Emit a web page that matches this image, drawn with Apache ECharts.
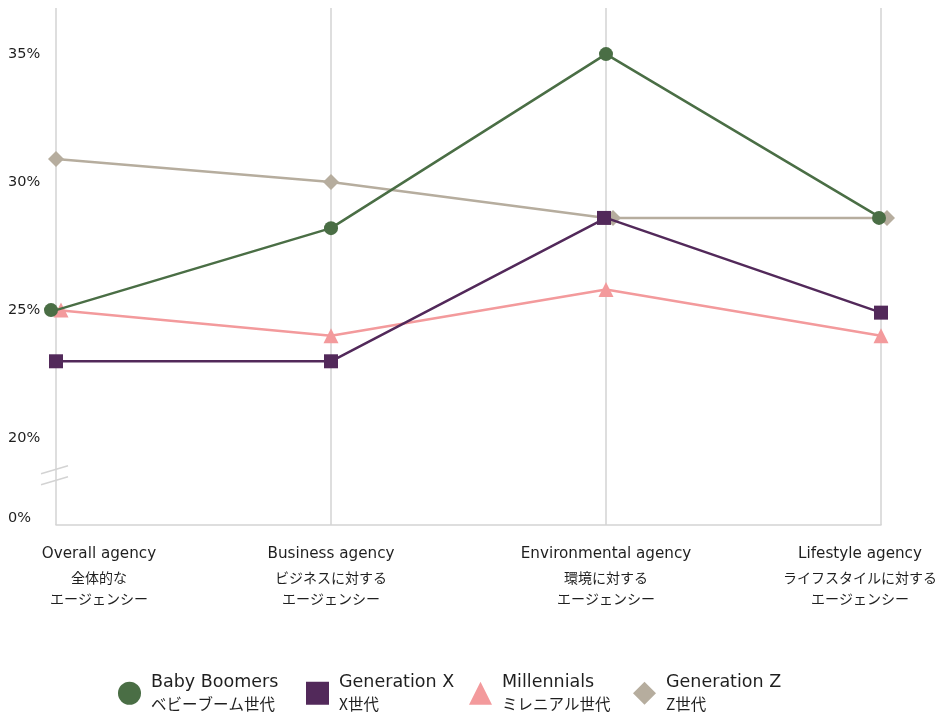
<!DOCTYPE html>
<html>
<head>
<meta charset="utf-8">
<script src="https://cdn.jsdelivr.net/npm/echarts@6/dist/echarts.min.js"></script>
<style>
  html, body { margin: 0; padding: 0; background: #ffffff; }
  #chart { width: 944px; height: 712px; }
</style>
</head>
<body>
<div id="chart"></div>
<script>
// Agency scores by generation (percent)
const categoriesEn = ['Overall agency', 'Business agency', 'Environmental agency', 'Lifestyle agency'];
const categoriesJa = [
  ['全体的な', 'エージェンシー'],
  ['ビジネスに対する', 'エージェンシー'],
  ['環境に対する', 'エージェンシー'],
  ['ライフスタイルに対する', 'エージェンシー']
];
const babyBoomers = [25.0, 28.2, 35.0, 28.6];
const generationX = [23.0, 23.0, 28.6, 24.9];
const millennials = [25.0, 24.0, 25.8, 24.0];
const generationZ = [30.9, 30.0, 28.6, 28.6];
const yTickValues = [0, 20, 25, 30, 35];
const seriesNamesEn = ['Baby Boomers', 'Generation X', 'Millennials', 'Generation Z'];
const seriesNamesJa = ['ベビーブーム世代', 'X世代', 'ミレニアル世代', 'Z世代'];

const FONT = '"DejaVu Sans", Inter, "Noto Sans CJK JP", sans-serif';
const JFONT = '"Noto Sans CJK JP", sans-serif';
const GRID_COLOR = '#d3d3d3';
const TEXT = '#1f1f1f';

// Marker styling; small horizontal nudges keep coincident markers visible
const styles = [
  { color: '#4a6e45', symbol: 'circle', icon: 'circle', size: 14, z: 5, nudge: [-5, 0, 0, -2] },
  { color: '#52295a', symbol: 'rect', icon: 'rect', size: 14, z: 4, nudge: [0, 0, -2, 0] },
  { color: '#f39a9c', symbol: 'triangle', icon: 'triangle', size: 15, z: 3, nudge: [5, 0, 0, 0] },
  { color: '#b6ad9e', symbol: 'diamond', icon: 'diamond', size: 16, z: 2, nudge: [0, 0, 7, 6] }
];
const values = [babyBoomers, generationX, millennials, generationZ];

// Category labels at the ends are pulled inward (left / right padding)
const labelPads = [[0, 0, 0, 86], [0, 0, 0, 0], [0, 0, 0, 0], [0, 42, 0, 0]];

const series = values.map((arr, s) => ({
  name: seriesNamesEn[s],
  type: 'line',
  z: styles[s].z,
  symbol: styles[s].symbol,
  symbolSize: styles[s].size,
  showAllSymbol: true,
  lineStyle: { color: styles[s].color, width: 2.5 },
  itemStyle: { color: styles[s].color, opacity: 1 },
  emphasis: { disabled: true },
  data: arr.map((v, i) => ({ value: v, symbolOffset: [styles[s].nudge[i], 0] }))
}));

const legendLefts = [118, 306, 469, 633];
const legends = seriesNamesEn.map((name, s) => ({
  left: legendLefts[s],
  top: 674,
  padding: 0,
  orient: 'horizontal',
  itemWidth: 23,
  itemHeight: 23,
  selectedMode: false,
  data: [{ name: name, icon: styles[s].icon, itemStyle: { color: styles[s].color } }],
  formatter: (n) => `{en|${n}}\n{ja|${seriesNamesJa[s]}}`,
  textStyle: {
    rich: {
      en: { fontFamily: FONT, fontSize: 17.5, lineHeight: 21, color: TEXT, padding: [0, 0, 0, 5] },
      ja: { fontFamily: JFONT, fontSize: 15.5, lineHeight: 21, color: TEXT, padding: [0, 0, 0, 5] }
    }
  }
}));

const chart = echarts.init(document.getElementById('chart'), null, { renderer: 'canvas' });
chart.setOption({
  animation: false,
  backgroundColor: '#ffffff',
  grid: { left: 56, right: 63, top: 8, bottom: 187, containLabel: false, outerBoundsMode: 'none' },
  legend: legends,
  xAxis: {
    type: 'category',
    boundaryGap: false,
    data: categoriesEn.map((c, i) => ({ value: c, textStyle: { padding: labelPads[i] } })),
    axisLine: { show: true, onZero: false, lineStyle: { color: GRID_COLOR, width: 1.5 } },
    axisTick: { show: false },
    splitLine: { show: true, lineStyle: { color: GRID_COLOR, width: 1.5 } },
    axisLabel: {
      margin: 16,
      interval: 0,
      hideOverlap: false,
      formatter: (v, i) => `{en|${v}}\n{ja|${categoriesJa[i][0]}}\n{ja|${categoriesJa[i][1]}}`,
      rich: {
        en: { fontFamily: FONT, fontSize: 15.2, lineHeight: 26, color: TEXT },
        ja: { fontFamily: JFONT, fontSize: 14, lineHeight: 21, color: TEXT }
      }
    }
  },
  yAxis: {
    type: 'value',
    min: -0.25,
    max: 36.8,
    breaks: [{ start: 1, end: 19, gap: '5.67%' }],
    breakArea: { show: false },
    axisLine: { show: false },
    axisTick: { show: false },
    splitLine: { show: false },
    axisLabel: {
      customValues: yTickValues,
      align: 'left',
      margin: 48,
      fontFamily: FONT,
      fontSize: 14.5,
      color: TEXT,
      formatter: (v) => v + '%'
    }
  },
  series: series
});

// Axis-break marker: two short slashes across the value axis between 0% and 20%
const x0 = chart.convertToPixel({ xAxisIndex: 0 }, 0);
const yLow = chart.convertToPixel({ yAxisIndex: 0 }, yTickValues[0]);
const yHigh = chart.convertToPixel({ yAxisIndex: 0 }, yTickValues[1]);
const yMid = (yLow + yHigh) / 2 - 3;
const slash = (dy) => ({
  type: 'line',
  shape: { x1: x0 - 15, y1: yMid + dy + 4, x2: x0 + 12, y2: yMid + dy - 4 },
  style: { stroke: GRID_COLOR, lineWidth: 1.5 },
  silent: true
});
chart.setOption({ graphic: [slash(-5.5), slash(5.5)] });
</script>
</body>
</html>
